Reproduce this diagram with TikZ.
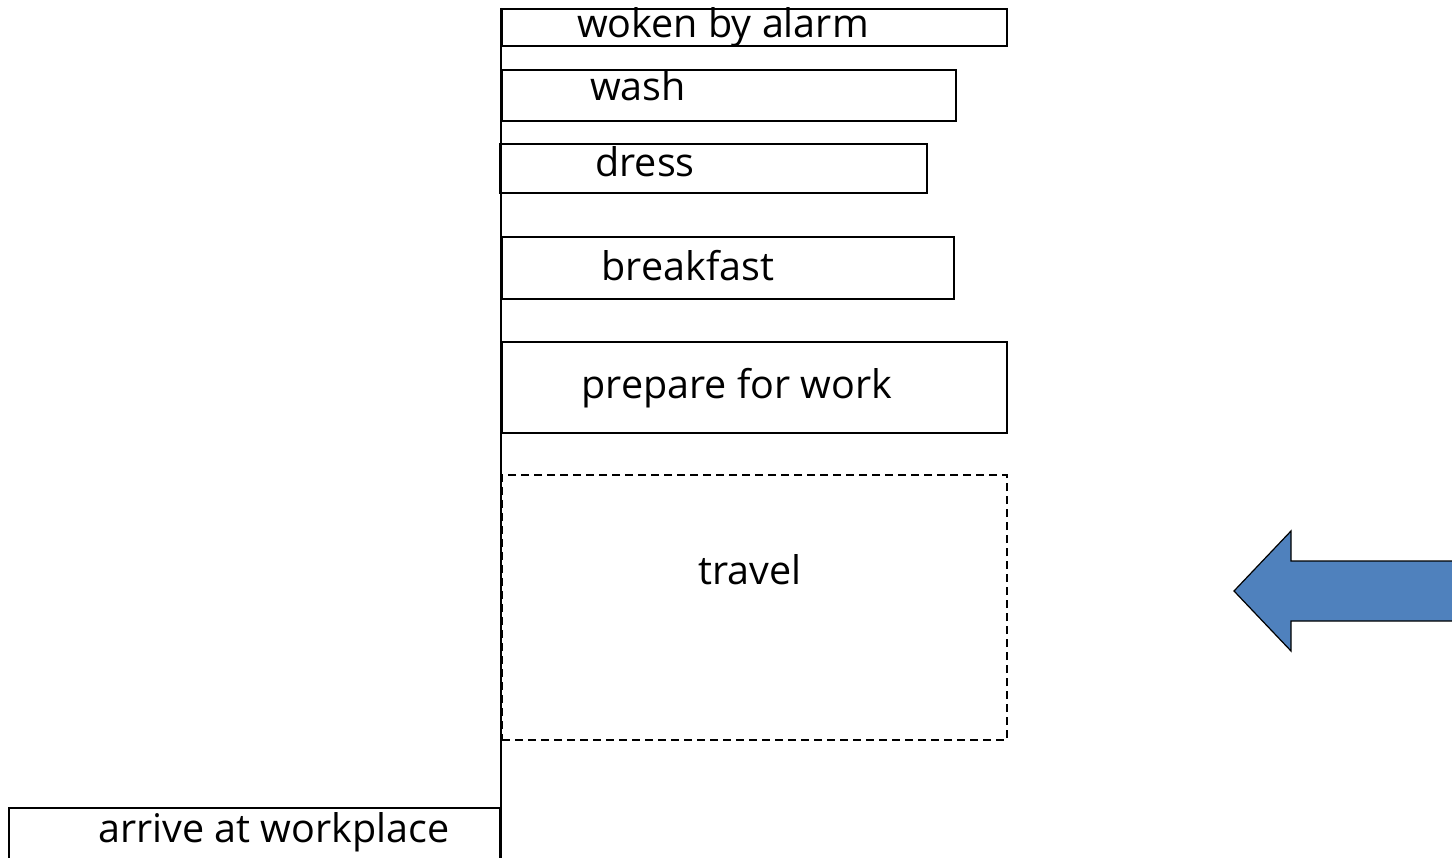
\documentclass[tikz,border=0pt]{standalone}
\usepackage{fontspec}
\setmainfont{Open Sans}
\definecolor{arrowblue}{RGB}{79,129,189}
\begin{document}
\begin{tikzpicture}[x=1pt,y=-1pt,
  box/.style={draw=black,line width=2pt,inner sep=0pt},
  dbox/.style={draw=black,line width=2pt,inner sep=0pt,dash pattern=on 8pt off 5pt},
  lbl/.style={inner sep=0pt,anchor=base,font=\fontsize{39.5}{42}\selectfont},
  conn/.style={draw=black,line width=2.2pt}]
\useasboundingbox (0,0) rectangle (1452,858);
\clip (0,0) rectangle (1452,858);
% boxes
\node[box,minimum width=505pt,minimum height=37pt] (woken) at (754.5,27.5) {};
\node[box,minimum width=454pt,minimum height=51pt] (wash) at (729,95.5) {};
\node[box,minimum width=427pt,minimum height=49pt] (dress) at (713.5,168.5) {};
\node[box,minimum width=452pt,minimum height=62pt] (breakfast) at (728,268) {};
\node[box,minimum width=505pt,minimum height=91pt] (prepare) at (754.5,387.5) {};
\node[dbox,minimum width=505pt,minimum height=265pt] (travel) at (754.5,607.5) {};
\node[box,minimum width=491pt,minimum height=70pt] (arrive) at (254.5,843) {};
% labels
\node[lbl] (t1) at (723,38) {woken by alarm};
\node[lbl] (t2) at (638,101) {wash};
\node[lbl] (t3) at (645,177) {dress};
\node[lbl] (t4) at (688,281) {breakfast};
\node[lbl] (t5) at (737,399) {prepare for work};
\node[lbl] (t6) at (750,584) {travel};
\node[lbl] (t7) at (274,842) {arrive at workplace};
% timeline
\coordinate (bottom) at (501,870);
\draw[conn] (woken.north west) -- (bottom);
% big arrow
\draw[fill=arrowblue,draw=black,line width=1.2pt,line join=miter]
  (1234,591) -- (1291,531) -- (1291,561) -- (1460,561) -- (1460,621) -- (1291,621) -- (1291,651) -- cycle;
\end{tikzpicture}
\end{document}
